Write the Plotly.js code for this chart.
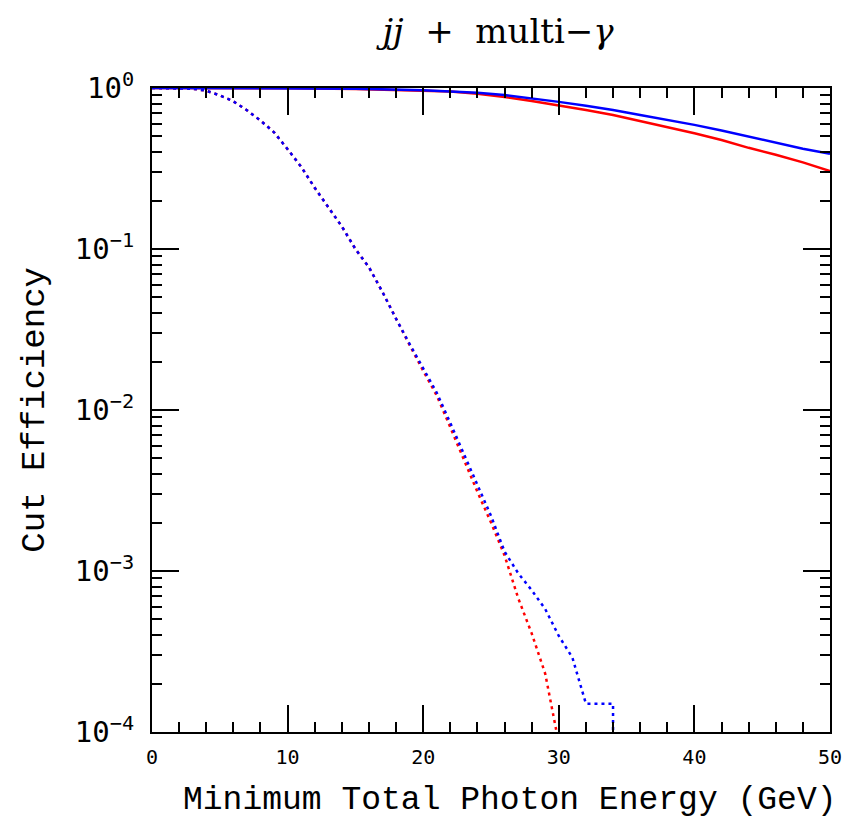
<!DOCTYPE html>
<html>
<head>
<meta charset="utf-8">
<script src="https://cdn.plot.ly/plotly-3.0.1.min.js"></script>
<style>html,body{margin:0;padding:0;background:#fff;}</style>
</head>
<body>
<div id="chart" style="width:847px;height:820px;"></div>
<script>
// Solid curves (x in GeV)
const xSolid = [0,5,10,15,20,22,24,26,28,30,32,34,36,38,40,42,44,46,48,50];
const redSolid  = [1.0,1.0,0.997,0.985,0.965,0.95,0.92,0.88,0.83,0.78,0.73,0.68,0.625,0.575,0.523,0.475,0.425,0.385,0.345,0.305];
const blueSolid = [1.0,1.0,0.998,0.99,0.97,0.957,0.935,0.905,0.865,0.82,0.775,0.73,0.68,0.635,0.59,0.545,0.50,0.46,0.42,0.39];

// Dotted curves
const xRedDot = [0,1,2,3,4,5,6,7,8,9,10,11,12,13,14,15,16,17,18,19,20,21,22,23,24,25,26,27,28,29,30];
const redDot = [1.0,1.0,1.0,0.99,0.962,0.90,0.826,0.728,0.628,0.531,0.417,0.324,0.24,0.182,0.138,0.10,0.077,0.054,0.0366,0.0253,0.0175,0.0123,0.0078,0.0049,0.0031,0.0020,0.00125,0.00068,0.00041,0.00023,0.000085];
const xBlueDot = [0,1,2,3,4,5,6,7,8,9,10,11,12,13,14,15,16,17,18,19,20,21,22,23,24,25,26,27,28,29,30,31,32,33,34,34];
const blueDot = [1.0,1.0,1.0,0.99,0.962,0.90,0.826,0.728,0.628,0.531,0.417,0.324,0.24,0.182,0.138,0.10,0.077,0.054,0.0368,0.0257,0.0182,0.0128,0.0083,0.0053,0.0034,0.0022,0.00132,0.00097,0.00076,0.00058,0.000395,0.00029,0.00015,0.00015,0.00015,0.000001];

const yTickVals = [1, 0.1, 0.01, 0.001, 0.0001];
const yTickText = ['10<sup>0</sup>','10<sup>−1</sup>','10<sup>−2</sup>','10<sup>−3</sup>','10<sup>−4</sup>'];
const xTickVals = [0,10,20,30,40,50];
const xTickText = ['0','10','20','30','40','50'];

const dotDash = '3px,4px';
const traces = [
  {x: xSolid, y: redSolid, mode:'lines', line:{color:'#ff0000', width:2.5}, name:'red solid'},
  {x: xRedDot, y: redDot, mode:'lines', line:{color:'#ff0000', width:2.5, dash:dotDash}, name:'red dotted'},
  {x: xSolid, y: blueSolid, mode:'lines', line:{color:'#0000ff', width:2.5}, name:'blue solid'},
  {x: xBlueDot, y: blueDot, mode:'lines', line:{color:'#0000ff', width:2.5, dash:dotDash}, name:'blue dotted'}
];

const mono = '"Liberation Mono", "DejaVu Sans Mono", monospace';
const layout = {
  width: 847, height: 820,
  margin: {l:152, r:17, t:88, b:88},
  paper_bgcolor:'#fff', plot_bgcolor:'#fff',
  showlegend:false,
  title: {text:'<i>jj</i>  +  multi−<i>γ</i>', font:{family:'"DejaVu Serif", "Liberation Serif", serif', size:34, color:'#000'}, x:0.588, xanchor:'center', y:0.962, yanchor:'middle'},
  xaxis: {
    type:'linear', range:[0,50], showgrid:false, zeroline:false,
    showline:true, linecolor:'#000', linewidth:2, mirror:'ticks',
    ticks:'inside', ticklen:27, tickwidth:2, tickcolor:'#000',
    tickvals:xTickVals, ticktext:xTickText, ticklabelstandoff:6,
    tickfont:{family:'"DejaVu Sans Mono", monospace', size:20, color:'#000'},
    minor:{ticks:'inside', ticklen:10, tickwidth:2, tickcolor:'#000', dtick:2, showgrid:false}
  },
  yaxis: {
    type:'log', range:[-4,0], showgrid:false, zeroline:false,
    showline:true, linecolor:'#000', linewidth:2, mirror:'ticks',
    ticks:'inside', ticklen:27, tickwidth:2, tickcolor:'#000',
    tickvals:yTickVals, ticktext:yTickText, ticklabelstandoff:10,
    tickfont:{family:'"DejaVu Sans Mono", monospace', size:29, color:'#000'},
    minor:{ticks:'inside', ticklen:10, tickwidth:2, tickcolor:'#000', dtick:'D1', showgrid:false}
  },
  annotations: [
    {text:'Minimum Total Photon Energy (GeV)', xref:'paper', yref:'paper', x:0.528, y:-0.106, xanchor:'center', yanchor:'middle', showarrow:false, font:{family:mono, size:33, color:'#000'}},
    {text:'Cut Efficiency', xref:'paper', yref:'paper', x:-0.173, y:0.5, xanchor:'center', yanchor:'middle', textangle:-90, showarrow:false, font:{family:mono, size:34, color:'#000'}}
  ]
};

Plotly.newPlot('chart', traces, layout, {displayModeBar:false, staticPlot:true});
</script>
</body>
</html>
